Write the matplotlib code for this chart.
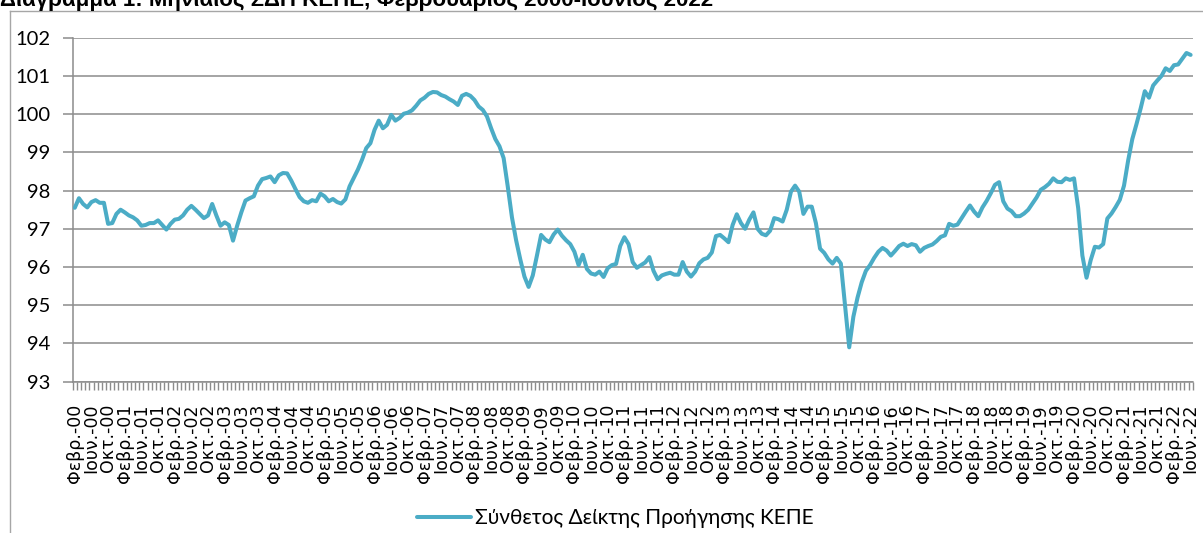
import matplotlib
matplotlib.use("Agg")
import matplotlib.pyplot as plt
from matplotlib.lines import Line2D

plt.rcParams['font.family'] = ['Lato', 'Open Sans', 'DejaVu Sans']

# monthly composite leading index, Feb 2000 - Jun 2022
y2000 = [97.55, 97.8, 97.65, 97.56, 97.7, 97.75, 97.68, 97.68, 97.13, 97.15, 97.39]
y2001 = [97.5, 97.43, 97.35, 97.3, 97.22, 97.08, 97.1, 97.15, 97.15, 97.22, 97.1, 96.98]
y2002 = [97.13, 97.24, 97.26, 97.35, 97.5, 97.6, 97.5, 97.39, 97.28, 97.35, 97.65, 97.35]
y2003 = [97.08, 97.17, 97.1, 96.69, 97.08, 97.43, 97.74, 97.8, 97.85, 98.13, 98.3, 98.33]
y2004 = [98.37, 98.22, 98.4, 98.46, 98.45, 98.26, 98.04, 97.83, 97.72, 97.68, 97.75, 97.72]
y2005 = [97.92, 97.85, 97.72, 97.78, 97.7, 97.66, 97.77, 98.11, 98.33, 98.55, 98.81, 99.11]
y2006 = [99.24, 99.59, 99.83, 99.63, 99.72, 99.98, 99.83, 99.9, 100.01, 100.04, 100.1, 100.22]
y2007 = [100.36, 100.43, 100.53, 100.58, 100.57, 100.5, 100.46, 100.39, 100.33, 100.24, 100.48, 100.53]
y2008 = [100.48, 100.37, 100.2, 100.11, 99.94, 99.63, 99.35, 99.16, 98.85, 98.1, 97.3, 96.7]
y2009 = [96.2, 95.75, 95.48, 95.78, 96.3, 96.84, 96.72, 96.65, 96.85, 96.98, 96.82, 96.7]
y2010 = [96.6, 96.4, 96.05, 96.32, 95.95, 95.83, 95.8, 95.88, 95.74, 95.97, 96.05, 96.08]
y2011 = [96.55, 96.78, 96.6, 96.13, 95.98, 96.05, 96.12, 96.26, 95.9, 95.68, 95.78, 95.82]
y2012 = [95.85, 95.8, 95.8, 96.13, 95.88, 95.75, 95.88, 96.1, 96.2, 96.24, 96.38, 96.81]
y2013 = [96.84, 96.75, 96.65, 97.1, 97.38, 97.15, 97.0, 97.24, 97.43, 97.0, 96.87, 96.83]
y2014 = [96.95, 97.28, 97.25, 97.19, 97.5, 97.97, 98.13, 97.97, 97.39, 97.58, 97.58, 97.15]
y2015 = [96.48, 96.37, 96.2, 96.09, 96.24, 96.09, 95.0, 93.9, 94.7, 95.2, 95.6, 95.9]
y2016 = [96.05, 96.24, 96.4, 96.5, 96.43, 96.3, 96.42, 96.55, 96.61, 96.55, 96.6, 96.57]
y2017 = [96.4, 96.5, 96.55, 96.59, 96.68, 96.79, 96.83, 97.13, 97.08, 97.11, 97.28, 97.45]
y2018 = [97.61, 97.45, 97.33, 97.56, 97.73, 97.93, 98.15, 98.22, 97.72, 97.53, 97.46, 97.33]
y2019 = [97.33, 97.4, 97.5, 97.66, 97.82, 98.02, 98.09, 98.18, 98.32, 98.23, 98.22, 98.32]
y2020 = [98.28, 98.32, 97.54, 96.3, 95.72, 96.18, 96.53, 96.51, 96.6, 97.27, 97.4, 97.57]
y2021 = [97.76, 98.13, 98.79, 99.35, 99.74, 100.15, 100.6, 100.43, 100.75, 100.88, 101.0, 101.2]
y2022 = [101.13, 101.28, 101.3, 101.45, 101.6, 101.55]

values = (y2000 + y2001 + y2002 + y2003 + y2004 + y2005 + y2006 + y2007 + y2008
          + y2009 + y2010 + y2011 + y2012 + y2013 + y2014 + y2015 + y2016 + y2017
          + y2018 + y2019 + y2020 + y2021 + y2022)

month_names = ['Ιαν.', 'Φεβρ.', 'Μαρ.', 'Απρ.', 'Μαΐου', 'Ιουν.',
               'Ιουλ.', 'Αυγ.', 'Σεπτ.', 'Οκτ.', 'Νοε.', 'Δεκ.']
labels = []
for k in range(len(values)):
    m = (1 + k) % 12
    yr = (2000 + (1 + k) // 12) % 100
    labels.append(f"{month_names[m]}-{yr:02d}")

series_name = 'Σύνθετος Δείκτης Προήγησης ΚΕΠΕ'
title = 'Διάγραμμα 1: Μηνιαίος ΣΔΠ ΚΕΠΕ, Φεβρουάριος 2000-Ιούνιος 2022'

W, H = 1203, 533
fig = plt.figure(figsize=(W / 100, H / 100), dpi=100)
ax = fig.add_axes([72.7 / W, 1 - 381.7 / H, 1120 / W, 344 / H])

grid_c = '#8C8C8C'
xs = list(range(len(values)))
line, = ax.plot(xs, values, color='#4BACC6', lw=2.9, solid_joinstyle='round',
                solid_capstyle='round', zorder=3)

ax.set_xlim(-0.5, len(values) - 0.5)
ax.set_ylim(93, 102)
ax.set_yticks(range(93, 103))
ax.yaxis.grid(True, color=grid_c, lw=1.1)
ax.set_axisbelow(True)

ax.set_xticks(xs[::4])
ax.set_xticklabels(labels[::4], rotation=90, fontsize=12.5, family='DejaVu Sans')
ax.set_xticks([k - 0.5 for k in range(len(values) + 1)], minor=True)
ax.tick_params(axis='x', which='major', length=0, pad=16)
ax.tick_params(axis='x', which='minor', length=6, color=grid_c, width=1)
ax.tick_params(axis='y', length=7, color=grid_c, width=1.1, labelsize=14.5, pad=9)

for s in ['top', 'right']:
    ax.spines[s].set_visible(False)
ax.spines['left'].set_color(grid_c)
ax.spines['bottom'].set_color(grid_c)
ax.spines['left'].set_linewidth(1.1)
ax.spines['bottom'].set_linewidth(1.1)

fig.legend([line], [series_name], loc='center', bbox_to_anchor=(615 / W, 1 - 518 / H),
           frameon=False, fontsize=15, handlelength=2.6, handletextpad=0.2)

# outer chart frame (only left and top edges visible)
fig.add_artist(Line2D([10 / W, 10 / W], [0, 1 - 11 / H], color='#A6A6A6', lw=1))
fig.add_artist(Line2D([10 / W, 1], [1 - 11 / H, 1 - 11 / H], color='#A6A6A6', lw=1))

fig.text(0, 1 - 6 / H, title, fontsize=16, fontweight='bold', va='baseline', ha='left',
         family=['Liberation Sans', 'DejaVu Sans'])

fig.savefig('out.png', dpi=100)
